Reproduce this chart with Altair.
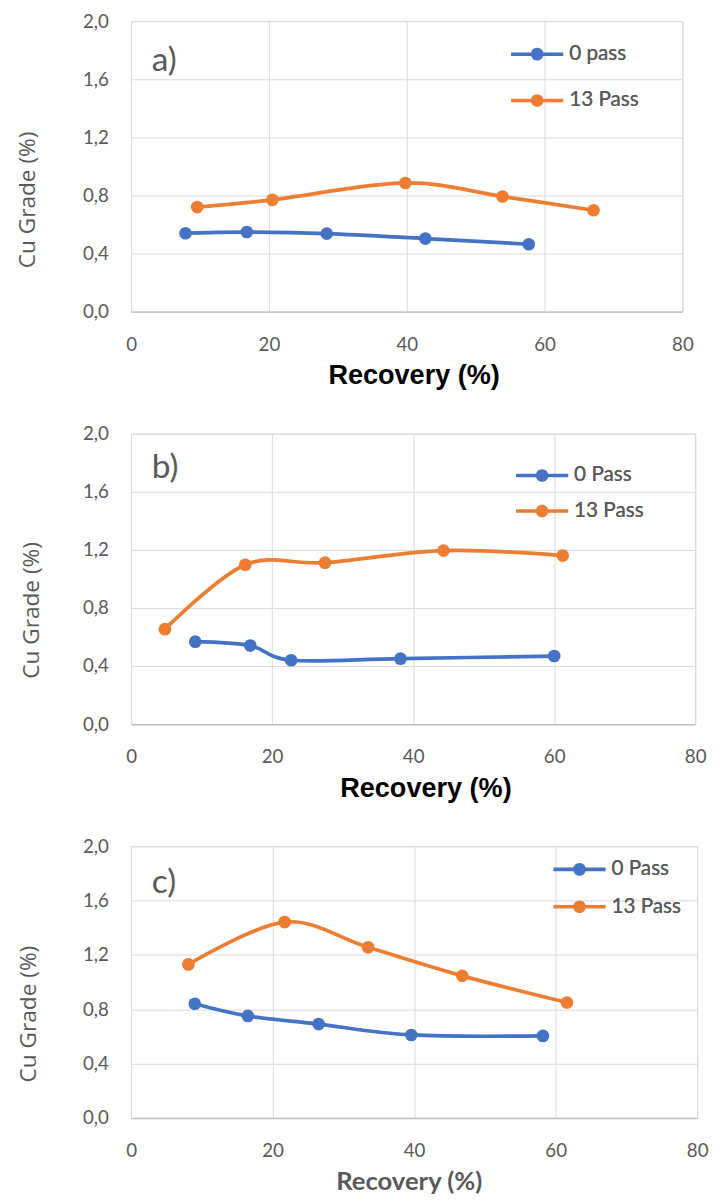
import altair as alt
import pandas as pd

# ---------------- data ----------------
# panel a)
a_labels = ["0 pass", "13 Pass"]
a_rec_0 = [7.9, 16.8, 28.4, 42.7, 57.7]
a_cu_0 = [0.540, 0.548, 0.537, 0.503, 0.464]
a_rec_13 = [9.6, 20.5, 39.8, 53.9, 67.1]
a_cu_13 = [0.720, 0.770, 0.886, 0.793, 0.698]

# panel b)
b_labels = ["0 Pass", "13 Pass"]
b_rec_0 = [9.1, 16.9, 22.7, 38.2, 60.0]
b_cu_0 = [0.568, 0.541, 0.440, 0.451, 0.469]
b_rec_13 = [4.8, 16.2, 27.5, 44.3, 61.2]
b_cu_13 = [0.654, 1.098, 1.112, 1.195, 1.161]

# panel c)
c_labels = ["0 Pass", "13 Pass"]
c_rec_0 = [9.0, 16.5, 26.5, 39.6, 58.2]
c_cu_0 = [0.841, 0.751, 0.691, 0.611, 0.604]
c_rec_13 = [8.1, 21.7, 33.5, 46.8, 61.6]
c_cu_13 = [1.130, 1.442, 1.256, 1.046, 0.850]

x_ticks = [0, 20, 40, 60, 80]
y_ticks = [0.0, 0.4, 0.8, 1.2, 1.6, 2.0]

BLUE = "#4472C4"
ORANGE = "#ED7D31"
GREY = "#595959"

LEGEND_PATH = ("M-2.65,-0.18L2.65,-0.18L2.65,0.18L-2.65,0.18Z "
               "M0.64,0A0.64,0.64 0 1 1 -0.64,0A0.64,0.64 0 1 1 0.64,0Z")


def make_df(labels, x0, y0, x13, y13):
    rows = []
    for x, y in zip(x0, y0):
        rows.append({"rec": x, "grade": y, "series": labels[0]})
    for x, y in zip(x13, y13):
        rows.append({"rec": x, "grade": y, "series": labels[1]})
    return pd.DataFrame(rows)


def panel(df, labels, letter, width, height, leg_x, leg_y, leg_pad,
          ytx, yty, xtx, xty, xt_font, xt_size, xt_color, letter_dy):
    color = alt.Color(
        "series:N",
        scale=alt.Scale(domain=labels, range=[BLUE, ORANGE]),
        legend=alt.Legend(
            title=None, orient="none", legendX=leg_x, legendY=leg_y,
            symbolType=LEGEND_PATH, symbolSize=400, symbolStrokeWidth=0,
            symbolOpacity=1, labelFont="Lato", labelFontSize=21,
            labelColor=GREY, labelOffset=22, rowPadding=leg_pad, padding=0,
        ),
    )
    x = alt.X(
        "rec:Q",
        scale=alt.Scale(domain=[0, 80], nice=False),
        axis=alt.Axis(
            values=x_ticks, title="Recovery (%)", titleFont=xt_font,
            titleFontSize=xt_size, titleFontWeight="bold", titleColor=xt_color,
            titleX=xtx, titleY=xty, titleBaseline="alphabetic", titleAlign="center",
            labelFont="Lato", labelFontSize=19, labelColor=GREY, labelPadding=24,
            labelFlush=False, labelOverlap=False, ticks=False, grid=True,
            gridColor="#D9D9D9", domainColor="#BFBFBF", domainWidth=1.5,
        ),
    )
    y = alt.Y(
        "grade:Q",
        scale=alt.Scale(domain=[0, 2], nice=False),
        axis=alt.Axis(
            values=y_ticks, title="Cu Grade (%)", titleFont="Open Sans",
            titleFontSize=23, titleFontWeight="normal", titleColor=GREY,
            titleAngle=270, titleX=ytx, titleY=yty, titleBaseline="alphabetic",
            titleAlign="center",
            labelExpr="replace(format(datum.value, '.1f'), '.', ',')",
            labelFont="Lato", labelFontSize=19, labelColor=GREY, labelPadding=23,
            ticks=False, domain=False, grid=True, gridColor="#D9D9D9",
        ),
    )
    base = alt.Chart(df)
    pts = base.mark_circle(size=165, opacity=1).encode(x=x, y=y, color=color)
    line = base.mark_line(interpolate="cardinal", strokeWidth=3.75).encode(
        x=x, y=y, color=color
    )
    return alt.layer(pts, line).properties(
        width=width, height=height,
        title=alt.TitleParams(
            letter, anchor="start", frame="group", orient="top", font="Lato",
            fontSize=34, fontWeight="normal", color=GREY, baseline="alphabetic",
            offset=0, dx=21, dy=letter_dy,
        ),
    ).resolve_scale(color="independent")


df_a = make_df(a_labels, a_rec_0, a_cu_0, a_rec_13, a_cu_13)
df_b = make_df(b_labels, b_rec_0, b_cu_0, b_rec_13, b_cu_13)
df_c = make_df(c_labels, c_rec_0, c_cu_0, c_rec_13, c_cu_13)

pa = panel(df_a, a_labels, "a)", 560, 295, 402, 23, 25,
           -98.5, 181, 287, 73.3, "Liberation Sans", 27.5, "#000000", 94)
pb = panel(df_b, b_labels, "b)", 573, 295, 407, 32, 14,
           -94.5, 179, 299, 73.3, "Liberation Sans", 27.5, "#000000", 88)
pc = panel(df_c, c_labels, "c)", 575, 276, 445, 13, 16,
           -97.5, 170, 282, 72.6, "Lato", 26, GREY, 91)

top = alt.vconcat(pa, pb, spacing=34).resolve_scale(color="independent")
chart = alt.vconcat(top, pc, spacing=34).resolve_scale(color="independent").properties(
    padding={"left": 8, "top": -6, "right": 0, "bottom": 0}
).configure_view(stroke="#D9D9D9", strokeWidth=1)

chart.save("out.html", embed_options={"renderer": "svg", "actions": False})
